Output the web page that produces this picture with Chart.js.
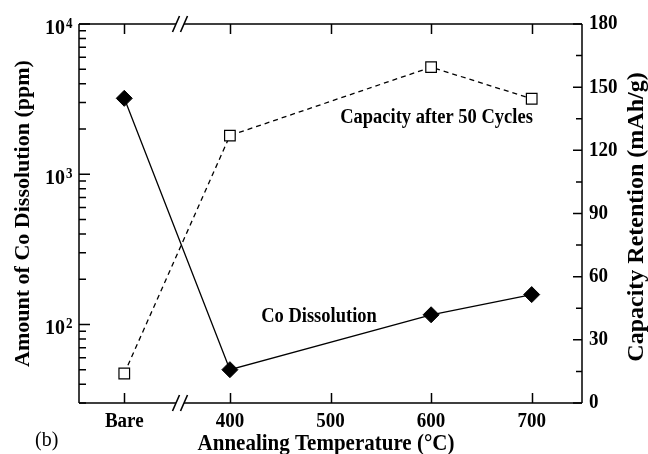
<!DOCTYPE html>
<html>
<head>
<meta charset="utf-8">
<script src="https://cdn.jsdelivr.net/npm/chart.js@4"></script>
<style>
  html, body { margin: 0; padding: 0; background: #ffffff; }
  #wrap { position: relative; width: 648px; height: 454px; }
</style>
</head>
<body>
<div id="wrap"><canvas id="c"></canvas></div>
<script>
// ---- data ----
const categories = ['Bare', '400', '600', '700'];
const BARE_POS = 295;                       // axis position used for the "Bare" sample
const temperatures = [BARE_POS, 400, 600, 700];
const coDissolution = [3200, 50, 116, 158];          // ppm (left, log axis)
const capacityRetention = [14, 127, 159.5, 144.5];   // mAh/g (right axis)
const xTickValues = [BARE_POS, 400, 500, 600, 700];
const xTickLabels = ['Bare', '400', '500', '600', '700'];
const leftMajorTicks = [100, 1000, 10000];
const rightTicks = [0, 30, 60, 90, 120, 150, 180];

const SERIF = '"Liberation Serif", "Times New Roman", Times, serif';

function drawText(ctx, s, x, y, font, o) {
  o = o || {};
  ctx.save();
  ctx.translate(x, y);
  if (o.rot) ctx.rotate(o.rot);
  ctx.scale(o.sx || 1, o.sy || 1);
  ctx.font = font;
  ctx.fillStyle = '#000';
  ctx.textAlign = o.align || 'center';
  ctx.textBaseline = o.baseline || 'alphabetic';
  ctx.fillText(s, 0, 0);
  ctx.restore();
}

const framePlugin = {
  id: 'frame',
  afterDraw(chart) {
    const ctx = chart.ctx;
    const a = chart.chartArea;
    const xs = chart.scales.x, yl = chart.scales.y, yr = chart.scales.y1;
    ctx.save();
    ctx.strokeStyle = '#000';
    ctx.fillStyle = '#000';
    ctx.lineWidth = 1.5;
    // axis break location
    const b1 = 176, b2 = 184;
    ctx.beginPath();
    ctx.moveTo(a.left, a.top); ctx.lineTo(a.left, a.bottom);
    ctx.moveTo(a.right, a.top); ctx.lineTo(a.right, a.bottom);
    [a.top, a.bottom].forEach(y => {
      ctx.moveTo(a.left, y); ctx.lineTo(b1, y);
      ctx.moveTo(b2, y); ctx.lineTo(a.right, y);
    });
    ctx.stroke();
    // break slashes
    ctx.lineWidth = 1.6;
    ctx.beginPath();
    [a.top, a.bottom].forEach(y => {
      [b1, b2].forEach(cx => {
        ctx.moveTo(cx - 3.5, y + 8);
        ctx.lineTo(cx + 3.5, y - 8);
      });
    });
    ctx.stroke();

    ctx.lineWidth = 1.5;
    ctx.beginPath();
    xTickValues.forEach(v => {
      const px = Math.round(xs.getPixelForValue(v)) + 0.5;
      ctx.moveTo(px, a.bottom); ctx.lineTo(px, a.bottom - 10);
      ctx.moveTo(px, a.top); ctx.lineTo(px, a.top + 10);
    });
    for (let e = 1; e <= 4; e++) {
      for (let m = 1; m <= 9; m++) {
        const v = m * Math.pow(10, e);
        if (v < yl.min || v > yl.max) continue;
        const py = yl.getPixelForValue(v);
        const len = m === 1 ? 11 : 7;
        ctx.moveTo(a.left, py); ctx.lineTo(a.left + len, py);
      }
    }
    for (let v = 0; v <= 180; v += 15) {
      const py = yr.getPixelForValue(v);
      const len = v % 30 === 0 ? 9 : 6;
      ctx.moveTo(a.right, py); ctx.lineTo(a.right - len, py);
    }
    ctx.stroke();

    const SY = 1.1;
    // x tick labels
    xTickValues.forEach((v, i) => {
      drawText(ctx, xTickLabels[i], xs.getPixelForValue(v), 427, 'bold 19px ' + SERIF, { sy: SY });
    });
    // right tick labels
    rightTicks.forEach(v => {
      drawText(ctx, String(v), 589, yr.getPixelForValue(v), 'bold 19px ' + SERIF,
               { align: 'left', baseline: 'middle', sy: SY });
    });
    // left tick labels 10^n
    leftMajorTicks.forEach(v => {
      const py = yl.getPixelForValue(v);
      drawText(ctx, '10', 65, py + 10, 'bold 20px ' + SERIF, { align: 'right' });
      drawText(ctx, String(Math.round(Math.log10(v))), 66, py + 3.5, 'bold 13px ' + SERIF, { align: 'left', sy: SY });
    });

    // axis titles
    drawText(ctx, 'Amount of Co Dissolution (ppm)', 23, 213.5, 'bold 22px ' + SERIF,
             { rot: -Math.PI / 2, baseline: 'middle' });
    drawText(ctx, 'Capacity Retention (mAh/g)', 637, 217, 'bold 24px ' + SERIF,
             { rot: -Math.PI / 2, baseline: 'middle' });
    drawText(ctx, 'Annealing Temperature (°C)', 326, 450, 'bold 21px ' + SERIF, { sy: SY });

    // annotations
    drawText(ctx, 'Capacity after 50 Cycles', 436.5, 123, 'bold 18.5px ' + SERIF, { sy: SY });
    drawText(ctx, 'Co Dissolution', 319, 321.5, 'bold 18.5px ' + SERIF, { sy: SY });

    // panel label
    drawText(ctx, '(b)', 35, 446, '20px ' + SERIF, { align: 'left', sy: SY });
    ctx.restore();
  }
};

new Chart(document.getElementById('c'), {
  type: 'line',
  data: {
    labels: categories,
    datasets: [
      {
        label: 'Co Dissolution',
        data: temperatures.map((t, i) => ({ x: t, y: coDissolution[i] })),
        yAxisID: 'y',
        borderColor: '#000',
        backgroundColor: '#000',
        borderWidth: 1.3,
        pointStyle: 'rectRot',
        pointRadius: 8,
        pointBackgroundColor: '#000',
        pointBorderColor: '#000',
        pointBorderWidth: 1,
        tension: 0
      },
      {
        label: 'Capacity after 50 Cycles',
        data: temperatures.map((t, i) => ({ x: t, y: capacityRetention[i] })),
        yAxisID: 'y1',
        borderColor: '#000',
        borderWidth: 1.3,
        borderDash: [5, 4],
        pointStyle: 'rect',
        pointRadius: 7.5,
        pointBackgroundColor: '#fff',
        pointBorderColor: '#000',
        pointBorderWidth: 1.2,
        tension: 0
      }
    ]
  },
  options: {
    responsive: true,
    maintainAspectRatio: false,
    animation: false,
    events: [],
    layout: { padding: { top: 24, left: 0, right: 0, bottom: 0 } },
    plugins: { legend: { display: false }, tooltip: { enabled: false } },
    scales: {
      x: {
        type: 'linear',
        min: 250, max: 750,
        afterBuildTicks(scale) { scale.ticks = xTickValues.map(v => ({ value: v })); },
        afterFit(scale) { scale.height = 51; },
        grid: { display: false, drawTicks: false },
        border: { display: false },
        ticks: { display: false },
        title: { display: false }
      },
      y: {
        type: 'logarithmic',
        position: 'left',
        min: 30, max: 10000,
        afterBuildTicks(scale) { scale.ticks = leftMajorTicks.map(v => ({ value: v })); },
        afterFit(scale) { scale.width = 79; },
        grid: { display: false, drawTicks: false },
        border: { display: false },
        ticks: { display: false },
        title: { display: false }
      },
      y1: {
        type: 'linear',
        position: 'right',
        min: 0, max: 180,
        afterBuildTicks(scale) { scale.ticks = rightTicks.map(v => ({ value: v })); },
        afterFit(scale) { scale.width = 66; },
        grid: { display: false, drawTicks: false },
        border: { display: false },
        ticks: { display: false }
      }
    }
  },
  plugins: [framePlugin]
});
</script>
</body>
</html>
